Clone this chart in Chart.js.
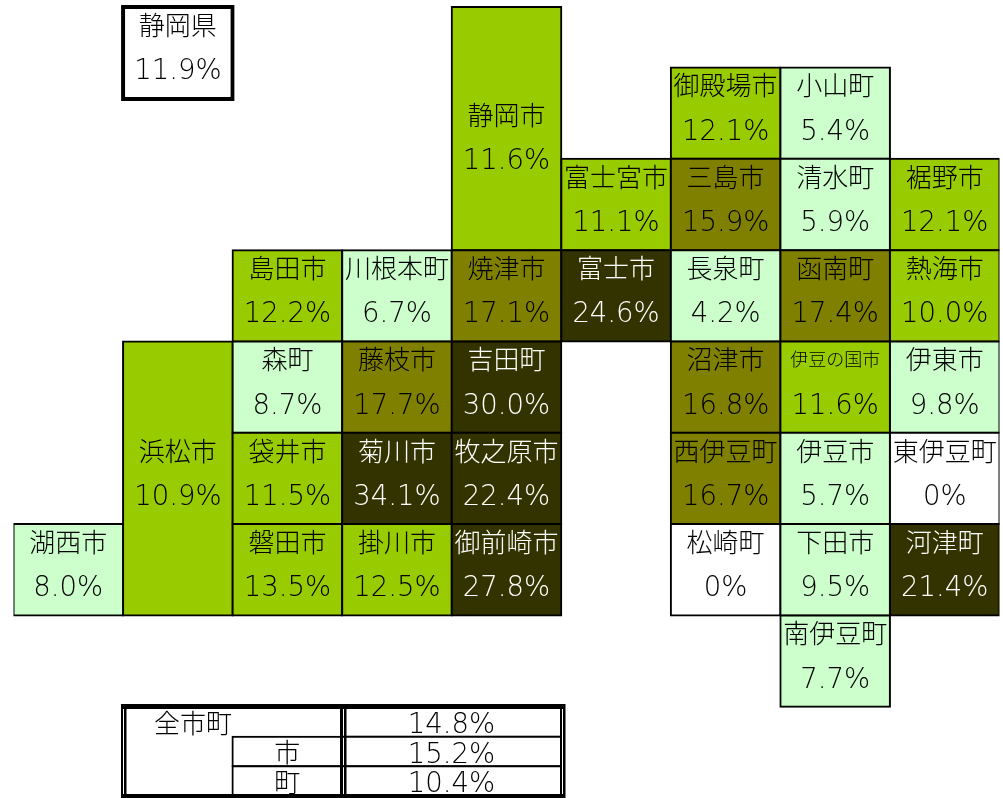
<!DOCTYPE html>
<html lang="ja">
<head>
  <meta charset="UTF-8" />
  <title>静岡県 市町別</title>
  <script src="https://cdn.jsdelivr.net/npm/chart.js"></script>
<style>
  html, body { margin: 0; padding: 0; background: #ffffff; overflow: hidden; }
  canvas { position: absolute; left: 0; top: 0; }
</style>
</head>
<body>
  <canvas id="mapa" width="1003" height="798"></canvas>
  <canvas id="tabela" width="1003" height="798"></canvas>

  <script>
    const columns = ['c0', 'c1', 'c2', 'c3', 'c4', 'c5', 'c6', 'c7', 'c8'];

    // tile map: one entry per municipality
    const names = ['静岡県', '静岡市', '浜松市', '御殿場市', '小山町', '富士宮市', '三島市', '清水町', '裾野市',
      '島田市', '川根本町', '焼津市', '富士市', '長泉町', '函南町', '熱海市',
      '森町', '藤枝市', '吉田町', '沼津市', '伊豆の国市', '伊東市',
      '袋井市', '菊川市', '牧之原市', '西伊豆町', '伊豆市', '東伊豆町',
      '湖西市', '磐田市', '掛川市', '御前崎市', '松崎町', '下田市', '河津町', '南伊豆町'];
    const values = [11.9, 11.6, 10.9, 12.1, 5.4, 11.1, 15.9, 5.9, 12.1,
      12.2, 6.7, 17.1, 24.6, 4.2, 17.4, 10.0,
      8.7, 17.7, 30.0, 16.8, 11.6, 9.8,
      11.5, 34.1, 22.4, 16.7, 5.7, 0,
      8.0, 13.5, 12.5, 27.8, 0, 9.5, 21.4, 7.7];
    const cols = ['c1', 'c4', 'c1', 'c6', 'c7', 'c5', 'c6', 'c7', 'c8',
      'c2', 'c3', 'c4', 'c5', 'c6', 'c7', 'c8',
      'c2', 'c3', 'c4', 'c6', 'c7', 'c8',
      'c2', 'c3', 'c4', 'c6', 'c7', 'c8',
      'c0', 'c2', 'c3', 'c4', 'c6', 'c7', 'c8', 'c7'];
    const rowStart = [-0.664, -0.664, 3, 0, 0, 1, 1, 1, 1,
      2, 2, 2, 2, 2, 2, 2,
      3, 3, 3, 3, 3, 3,
      4, 4, 4, 4, 4, 4,
      5, 5, 5, 5, 5, 5, 5, 6];
    const rowEnd = [0.344, 2, 6, 1, 1, 2, 2, 2, 2,
      3, 3, 3, 3, 3, 3, 3,
      4, 4, 4, 4, 4, 4,
      5, 5, 5, 5, 5, 5,
      6, 6, 6, 6, 6, 6, 6, 7];
    // row where the text sits, when it is not the top of the tile
    const textRow = { '静岡市': 0.32, '浜松市': 4 };

    // summary table
    const tableRows = ['全市町', '市', '町'];
    const tableValues = [14.8, 15.2, 10.4];

    const nameFont = '300 26px "Noto Sans CJK JP"';
    const valueFont = '200 27.5px "DejaVu Sans"';

    function tileColor(v, i) {
      if (i === 0 || v === 0) return '#ffffff';
      if (v < 10) return '#ccffcc';
      if (v < 15) return '#99cc00';
      if (v < 20) return '#808000';
      return '#333300';
    }

    function pct(v) {
      return v === 0 ? '0%' : v.toFixed(1) + '%';
    }

    const tileText = {
      id: 'tileText',
      afterDatasetsDraw(chart) {
        const { ctx, scales } = chart;
        const bars = chart.getDatasetMeta(0).data;
        ctx.save();
        ctx.textAlign = 'center';
        ctx.textBaseline = 'middle';
        bars.forEach((bar, i) => {
          const row = textRow[names[i]] !== undefined ? textRow[names[i]] : rowStart[i];
          const top = scales.y.getPixelForValue(row);
          ctx.fillStyle = values[i] >= 20 ? '#ffffff' : '#000000';
          ctx.font = names[i].length > 4 ? '300 18px "Noto Sans CJK JP"' : nameFont;
          ctx.fillText(names[i], bar.x, top + 18);
          ctx.font = valueFont;
          ctx.fillText(pct(values[i]), bar.x, top + 65);
        });
        ctx.restore();
      }
    };

    new Chart(document.getElementById('mapa'), {
      type: 'bar',
      data: {
        labels: columns,
        datasets: [{
          data: names.map((n, i) => ({ x: cols[i], y: [rowStart[i], rowEnd[i]] })),
          backgroundColor: values.map(tileColor),
          borderColor: '#000000',
          borderWidth: values.map((v, i) => (i === 0 ? 4 : 2)),
          inflateAmount: values.map((v, i) => (i === 0 ? 2 : 1)),
          borderSkipped: false,
          barPercentage: 1,
          categoryPercentage: 1
        }]
      },
      options: {
        responsive: false,
        animation: false,
        layout: { padding: { left: 13.5, right: 3.5, top: 0, bottom: 0 } },
        plugins: { legend: { display: false }, tooltip: { enabled: false } },
        scales: {
          x: { display: false },
          y: { display: false, reverse: true, min: -0.74, max: 8 }
        }
      },
      plugins: [tileText]
    });

    const tableFrame = {
      id: 'tableFrame',
      afterDatasetsDraw(chart) {
        const { ctx, scales } = chart;
        const x0 = scales.x.getPixelForValue(0);
        const x2 = scales.x.getPixelForValue(2);
        const x4 = scales.x.getPixelForValue(4);
        const top = chart.chartArea.top;
        const bottom = chart.chartArea.bottom;
        ctx.save();

        ctx.fillStyle = '#000000';
        ctx.textAlign = 'center';
        ctx.textBaseline = 'middle';
        tableRows.forEach((label, i) => {
          const y = scales.y.getPixelForValue(i);
          ctx.font = nameFont;
          ctx.fillText(label, i === 0 ? x0 + 70 : scales.x.getPixelForValue(1.5), y + 1);
          ctx.font = valueFont;
          ctx.fillText(pct(tableValues[i]), scales.x.getPixelForValue(3), y + 4);
        });

        // double rules
        ctx.fillRect(x0 - 2, top - 3, x4 - x0 + 6, 5);
        ctx.fillRect(x0 - 2, bottom - 2, x4 - x0 + 6, 4);
        [x0 - 2, x2 - 2, x4 - 1].forEach(x => ctx.fillRect(x, top - 3, 2, bottom - top + 5));
        [x0 + 1, x2 + 2, x4 + 2].forEach(x => ctx.fillRect(x, top - 3, 2.5, bottom - top + 5));
        ctx.restore();
      }
    };

    const tableCells = [];
    tableRows.forEach((label, i) => {
      if (i > 0) tableCells.push({ y: label, x: [1, 2] });
      tableCells.push({ y: label, x: [2, 4] });
    });

    new Chart(document.getElementById('tabela'), {
      type: 'bar',
      data: {
        labels: tableRows,
        datasets: [{
          data: tableCells,
          backgroundColor: '#ffffff',
          borderColor: '#000000',
          borderWidth: 2,
          inflateAmount: 1,
          borderSkipped: false,
          barPercentage: 1,
          categoryPercentage: 1
        }]
      },
      options: {
        indexAxis: 'y',
        responsive: false,
        animation: false,
        layout: { padding: { left: 123, right: 442, top: 707, bottom: 2 } },
        plugins: { legend: { display: false }, tooltip: { enabled: false } },
        scales: {
          x: { display: false, min: 0, max: 4 },
          y: { display: false }
        }
      },
      plugins: [tableFrame]
    });
  </script>
</body>
</html>
